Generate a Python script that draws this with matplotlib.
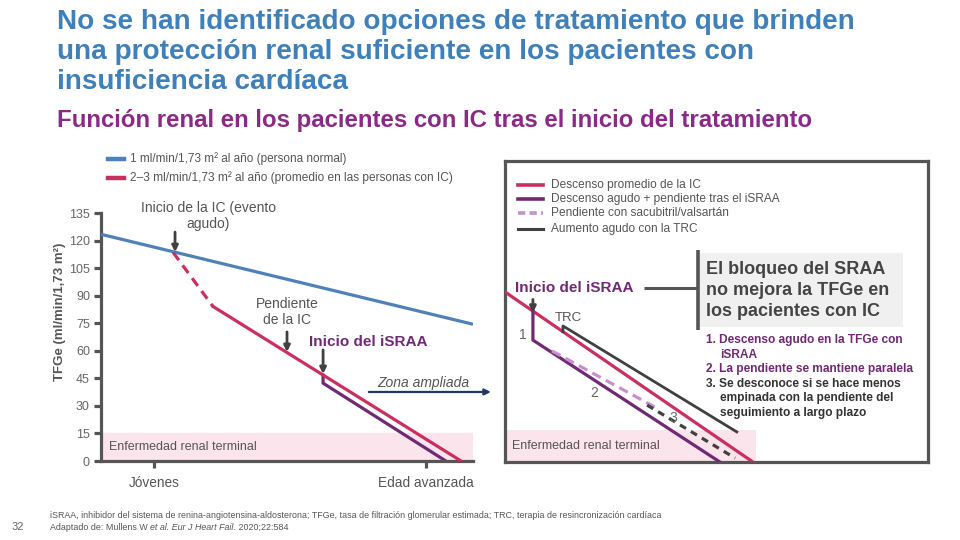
import matplotlib
matplotlib.use("Agg")
import matplotlib.pyplot as plt
from matplotlib import font_manager
from matplotlib.lines import Line2D
from matplotlib.patches import Rectangle

# ---------------- data ----------------
# main chart (x: arbitrary time 0..100, y: eGFR ml/min/1.73 m2)
normal_x = [0, 100]
normal_gfr = [123.5, 74.5]
hf_acute_x = [19.4, 30.1]
hf_acute_gfr = [113.6, 84.2]
hf_x = [30.1, 96.8]
hf_gfr = [84.2, 0]
raasi_x = [59.7, 59.7, 92.7]
raasi_gfr = [46.8, 42.4, 0]
esrd_band = [0, 15]
y_ticks = [0, 15, 30, 45, 60, 75, 90, 105, 120, 135]
x_tick_pos = [14.2, 87.4]
x_tick_labels = ["Jóvenes", "Edad avanzada"]
legend_main = ["1 ml/min/1,73 m² al año (persona normal)",
               "2–3 ml/min/1,73 m² al año (promedio en las personas con IC)"]

# zoomed chart (arbitrary units 0..100)
z_hf_x = [0, 58.6]
z_hf_y = [56.5, 0]
z_raasi_x = [6.6, 6.6, 50.8]
z_raasi_y = [50.1, 40.5, 0]
z_crt_x = [13.7, 13.7, 54.8]
z_crt_y = [43.3, 45.2, 10.0]
z_sv_x = [11.1, 35.9]
z_sv_y = [36.9, 17.9]
z_unk_x = [33.6, 54.4]
z_unk_y = [18.9, 1.3]
z_esrd_x = [0, 59.3]
z_esrd_y = [0, 10.6]
legend_zoom = ["Descenso promedio de la IC",
               "Descenso agudo + pendiente tras el iSRAA",
               "Pendiente con sacubitril/valsartán",
               "Aumento agudo con la TRC"]

# ---------------- style ----------------
BLUE = "#4f81b9"
RED = "#c9305f"
PURPLE = "#6f2a73"
LILAC = "#c590cc"
DARK = "#404040"
AXC = "#555555"
TXT = "#555555"
TITLE_BLUE = "#3f80ba"
SUB_PURPLE = "#8a2a86"
PINK = "#fce4ec"

names = {f.name for f in font_manager.fontManager.ttflist}
NARROW = "Liberation Sans Narrow" if "Liberation Sans Narrow" in names else "Liberation Sans"
plt.rcParams["font.family"] = ["Liberation Sans", "DejaVu Sans"]

fig = plt.figure(figsize=(9.6, 5.4), dpi=100)
fig.patch.set_facecolor("white")
renderer = fig.canvas.get_renderer()


def fx(x):
    return x / 960.0


def fy(y):
    return 1 - y / 540.0


def ftext(x, y, s, width=None, size=10, **kw):
    kw.setdefault("va", "center")
    t = fig.text(fx(x), fy(y), s, fontsize=size, **kw)
    if width:
        w = t.get_window_extent(renderer).width
        t.set_fontsize(size * width / w)
    return t


# ---------------- titles ----------------
tsize = None
for i, line in enumerate(["No se han identificado opciones de tratamiento que brinden",
                          "una protección renal suficiente en los pacientes con",
                          "insuficiencia cardíaca"]):
    if i == 0:
        t = ftext(57, 22, line, width=794, size=20, color=TITLE_BLUE,
                  fontweight="bold", family=NARROW)
        tsize = t.get_fontsize()
    else:
        ftext(57, 22 + 30 * i, line, size=tsize, color=TITLE_BLUE,
              fontweight="bold", family=NARROW)
ftext(57, 121, "Función renal en los pacientes con IC tras el inicio del tratamiento",
      width=753, size=16, color=SUB_PURPLE, fontweight="bold", family=NARROW)

# ---------------- main chart ----------------
ax = fig.add_axes([fx(101), fy(461), (473 - 101) / 960, (461 - 204) / 540])
ax.set_xlim(0, 100)
ax.set_ylim(0, 140)
ax.axhspan(esrd_band[0], esrd_band[1], color=PINK, zorder=0)
ax.plot(normal_x, normal_gfr, color=BLUE, lw=2.3, solid_capstyle="butt", zorder=3)
ax.plot(hf_acute_x, hf_acute_gfr, color=RED, lw=2.3, ls=(0, (3, 2)), zorder=3)
ax.plot(hf_x, hf_gfr, color=RED, lw=2.3, zorder=3)
ax.plot(raasi_x, raasi_gfr, color=PURPLE, lw=2.3, zorder=2)
for s in ["top", "right"]:
    ax.spines[s].set_visible(False)
for s in ["left", "bottom"]:
    ax.spines[s].set_color(AXC)
    ax.spines[s].set_linewidth(2.3)
ax.spines["left"].set_bounds(0, 135)
ax.set_yticks(y_ticks)
ax.set_xticks(x_tick_pos)
ax.set_xticklabels(x_tick_labels)
ax.tick_params(axis="y", length=5, width=2.3, color=AXC, labelcolor="#666666",
               labelsize=9, pad=3)
ax.tick_params(axis="x", length=5, width=2.3, color=AXC, labelcolor="#555555",
               labelsize=9.8, pad=6)
ax.set_facecolor("none")

ax.text(2.2, 7.6, "Enfermedad renal terminal", fontsize=9, color="#555555", va="center")
arr = dict(arrowstyle="-|>", color=DARK, lw=2, mutation_scale=9, shrinkA=0, shrinkB=0)
ax.text(28.8, 133.4, "Inicio de la IC (evento\nagudo)", fontsize=10, color="#555555",
        ha="center", va="center", linespacing=1.15)
ax.annotate("", xy=(19.9, 113.8), xytext=(19.9, 124.7), arrowprops=arr)
ax.text(50.0, 81.2, "Pendiente\nde la IC", fontsize=10, color="#555555",
        ha="center", va="center", linespacing=1.15)
ax.annotate("", xy=(50.0, 59.4), xytext=(50.0, 70.3), arrowprops=arr)
ax.text(55.9, 64.8, "Inicio del iSRAA", fontsize=11, color=PURPLE, fontweight="bold",
        va="center")
ax.annotate("", xy=(59.7, 47.4), xytext=(59.7, 60.5), arrowprops=arr)
ax.text(74.2, 42.5, "Zona ampliada", fontsize=10, color="#555555", style="italic",
        va="center")
ax.annotate("", xy=(104.8, 37.6), xytext=(72.0, 37.6), annotation_clip=False,
            arrowprops=dict(arrowstyle="-|>", color="#1f3864", lw=1.6,
                            mutation_scale=9, shrinkA=0, shrinkB=0))

fig.text(fx(60), fy(312), "TFGe (ml/min/1,73 m²)", rotation=90, fontsize=9.5,
         fontweight="bold", color="#555555", ha="center", va="center")

# main legend
for i, (lab, col) in enumerate(zip(legend_main, [BLUE, RED])):
    yy = 159 + 19 * i
    fig.add_artist(Line2D([fx(108), fx(124)], [fy(yy), fy(yy)], color=col, lw=3.2))
    ftext(130, yy, lab, width=[217, 324][i], size=9, color=TXT)

# ---------------- zoomed chart ----------------
ax2 = fig.add_axes([fx(505), fy(462), 423 / 960, 301 / 540])
ax2.set_xlim(0, 100)
ax2.set_ylim(0, 100)
ax2.set_xticks([])
ax2.set_yticks([])
for s in ax2.spines.values():
    s.set_color(AXC)
    s.set_linewidth(2.3)
ax2.add_patch(Rectangle((z_esrd_x[0], z_esrd_y[0]), z_esrd_x[1] - z_esrd_x[0],
                        z_esrd_y[1] - z_esrd_y[0], color=PINK, zorder=0, lw=0))
ax2.plot(z_hf_x, z_hf_y, color=RED, lw=2.3, zorder=3)
ax2.plot(z_raasi_x, z_raasi_y, color=PURPLE, lw=2.3, zorder=3)
ax2.plot(z_crt_x, z_crt_y, color=DARK, lw=2.0, zorder=3)
ax2.plot(z_sv_x, z_sv_y, color=LILAC, lw=2.3, ls=(0, (3, 1.8)), zorder=3)
ax2.plot(z_unk_x, z_unk_y, color=DARK, lw=2.3, ls=(0, (2.2, 1.8)), zorder=3)

ax2.text(1.7, 5.3, "Enfermedad renal terminal", fontsize=9, color="#555555", va="center")
ax2.text(4.3, 42.2, "1", fontsize=10, color="#666666", ha="center", va="center")
ax2.text(21.0, 22.9, "2", fontsize=10, color="#666666", ha="center", va="center")
ax2.text(39.7, 14.6, "3", fontsize=10, color="#666666", ha="center", va="center")
ax2.text(11.8, 47.8, "TRC", fontsize=9.5, color="#555555", va="center")
ax2.text(2.4, 57.8, "Inicio del iSRAA", fontsize=11, color=PURPLE, fontweight="bold",
         va="center")
ax2.annotate("", xy=(6.6, 49.6), xytext=(6.6, 54.0), arrowprops=arr)
ax2.plot([32.9, 45.6], [57.8, 57.8], color=AXC, lw=2.2, solid_capstyle="butt")
ax2.add_patch(Rectangle((45.6, 44.9), 48.5, 24.5, color="#f0f0f0", lw=0, zorder=1))
ax2.plot([45.6, 45.6], [43.9, 70.4], color=AXC, lw=2.6, solid_capstyle="butt", zorder=2)

# zoom legend
styles = [dict(color=RED, lw=2.6), dict(color=PURPLE, lw=2.6),
          dict(color=LILAC, lw=2.6, ls=(0, (2, 1.2))), dict(color=DARK, lw=2.2)]
lsize = None
for i, (lab, st) in enumerate(zip(legend_zoom, styles)):
    yy = [185, 199, 213, 229][i]
    fig.add_artist(Line2D([fx(518), fx(543)], [fy(yy), fy(yy)], **st))
    if i == 1:
        pass
for i, lab in enumerate(legend_zoom):
    yy = [185, 199, 213, 229][i]
    if lsize is None:
        t = ftext(551, 199, legend_zoom[1], width=229, size=9, color=TXT)
        lsize = t.get_fontsize()
        t.remove()
    ftext(551, yy, lab, size=lsize, color=TXT)

# box text
bsize = None
for i, line in enumerate(["El bloqueo del SRAA", "no mejora la TFGe en",
                          "los pacientes con IC"]):
    if bsize is None:
        t = ftext(706, 269, line, width=179, size=13, color="#444444", fontweight="bold")
        bsize = t.get_fontsize()
    else:
        ftext(706, 269 + 21.5 * i, line, size=bsize, color="#444444", fontweight="bold")

lst = [("1. Descenso agudo en la TFGe con", 706, 340, PURPLE),
       ("iSRAA", 720, 355, PURPLE),
       ("2. La pendiente se mantiene paralela", 706, 369, PURPLE),
       ("3. Se desconoce si se hace menos", 706, 384, "#333333"),
       ("empinada con la pendiente del", 720, 398, "#333333"),
       ("seguimiento a largo plazo", 720, 413, "#333333")]
t = ftext(706, 369, lst[2][0], width=206, size=9, fontweight="bold", family=NARROW)
ssize = t.get_fontsize()
t.remove()
for s, x, y, c in lst:
    ftext(x, y, s, size=ssize, color=c, fontweight="bold", family=NARROW)

# ---------------- footnotes ----------------
ftext(12, 527, "32", size=8, color="#666666")
ftext(50, 515, "iSRAA, inhibidor del sistema de renina-angiotensina-aldosterona; TFGe, "
      "tasa de filtración glomerular estimada; TRC, terapia de resincronización cardíaca",
      width=612, size=6, color="#555555", family=NARROW)
fsize = fig.texts[-1].get_fontsize()
xcur = 50
for seg, it in [("Adaptado de: Mullens W ", False), ("et al. Eur J Heart Fail.", True),
                (" 2020;22:584", False)]:
    t = ftext(xcur, 527, seg, size=fsize, color="#555555", family=NARROW,
              style="italic" if it else "normal")
    xcur += t.get_window_extent(renderer).width

fig.savefig("out.png", dpi=100, facecolor="white")
